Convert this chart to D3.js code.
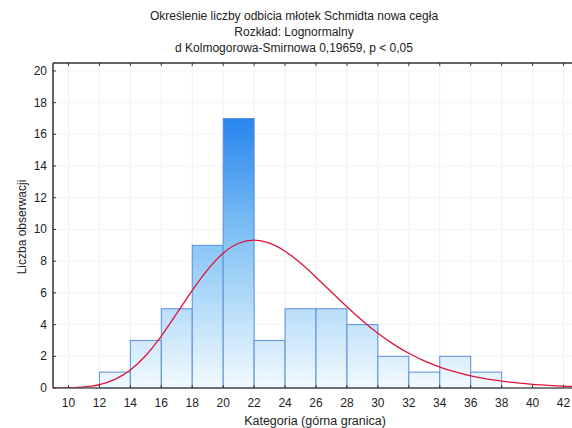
<!DOCTYPE html>
<html><head><meta charset="utf-8">
<script src="https://cdn.jsdelivr.net/npm/d3@7/dist/d3.min.js"></script>
<style>body{margin:0;background:#fff}svg{display:block;font-family:"Liberation Sans",Arial,sans-serif}</style>
</head><body>
<svg id="c" width="572" height="428"></svg>
<script>
const titleLines = ["Określenie liczby odbicia młotek Schmidta nowa cegła", "Rozkład: Lognormalny", "d Kolmogorowa-Smirnowa 0,19659, p < 0,05"];
const binStarts = [10,12,14,16,18,20,22,24,26,28,30,32,34,36,38,40];
const counts    = [0, 1, 3, 5, 9, 17, 3, 5, 5, 4, 2, 1, 2, 1, 0, 0];
const curveX = [9,10,11,12,13,14,15,16,17,18,19,20,21,22,23,24,25,26,27,28,29,30,31,32,33,34,35,36,37,38,39,40,41,42,43];
const curveY = [0.003,0.015,0.065,0.21,0.54,1.13,2.05,3.27,4.70,6.16,7.47,8.50,9.13,9.33,9.14,8.63,7.88,6.99,6.05,5.12,4.24,3.45,2.77,2.19,1.71,1.32,1.01,0.76,0.57,0.43,0.32,0.23,0.17,0.12,0.09];
const xTicks = [10,12,14,16,18,20,22,24,26,28,30,32,34,36,38,40,42];
const yTicks = [0,2,4,6,8,10,12,14,16,18,20];
const xLabel = "Kategoria (górna granica)";
const yLabel = "Liczba obserwacji";

const svg = d3.select("#c");
const L=53, T=63, B=388, R=579;
const x = d3.scaleLinear().domain([9,43]).range([L,R]);
const y = d3.scaleLinear().domain([0,20.5]).range([B,T]);

const defs = svg.append("defs");
const g = defs.append("linearGradient").attr("id","bg").attr("gradientUnits","userSpaceOnUse")
  .attr("x1",0).attr("x2",0).attr("y1",y(18)).attr("y2",y(0));
g.append("stop").attr("offset",0).attr("stop-color","#1b7ded");
g.append("stop").attr("offset",0.5).attr("stop-color","#8ac6f5");
g.append("stop").attr("offset",1).attr("stop-color","#f2faff");
defs.append("clipPath").attr("id","clip").append("rect").attr("x",L).attr("y",T).attr("width",R-L).attr("height",B-T);

// grid
svg.append("g").selectAll("line").data(xTicks).join("line")
  .attr("x1",d=>x(d)).attr("x2",d=>x(d)).attr("y1",T).attr("y2",B)
  .attr("stroke","#eef0f4").attr("stroke-width",1);
svg.append("g").selectAll("line").data(yTicks.slice(1)).join("line")
  .attr("x1",L).attr("x2",R).attr("y1",d=>y(d)).attr("y2",d=>y(d))
  .attr("stroke","#f2f4f6").attr("stroke-width",1);

// bars
svg.append("g").selectAll("rect").data(binStarts.map((s,i)=>({s,c:counts[i]})).filter(d=>d.c>0)).join("rect")
  .attr("x",d=>x(d.s)).attr("width",d=>x(d.s+2)-x(d.s))
  .attr("y",d=>y(d.c)).attr("height",d=>y(0)-y(d.c))
  .attr("fill","url(#bg)").attr("stroke","#5a8fd8").attr("stroke-width",1);

// curve
const pts = curveX.map((v,i)=>[v,curveY[i]]);
svg.append("path").attr("clip-path","url(#clip)")
  .attr("d", d3.line().x(d=>x(d[0])).y(d=>y(d[1])).curve(d3.curveMonotoneX)(pts))
  .attr("fill","none").attr("stroke","#e0143a").attr("stroke-width",1.3);

// frame
svg.append("line").attr("x1",L).attr("x2",L).attr("y1",T).attr("y2",B).attr("stroke","#333").attr("stroke-width",1.5);
svg.append("line").attr("x1",L).attr("x2",572).attr("y1",B).attr("y2",B).attr("stroke","#555").attr("stroke-width",1.5);
svg.append("line").attr("x1",L).attr("x2",572).attr("y1",T).attr("y2",T).attr("stroke","#333").attr("stroke-width",1.5);

// ticks
svg.append("g").selectAll("line").data(xTicks).join("line")
  .attr("x1",d=>x(d)).attr("x2",d=>x(d)).attr("y1",B-3).attr("y2",B).attr("stroke","#333");
svg.append("g").selectAll("line").data(xTicks).join("line")
  .attr("x1",d=>x(d)).attr("x2",d=>x(d)).attr("y1",T).attr("y2",T+3).attr("stroke","#333");
svg.append("g").selectAll("line").data(yTicks).join("line")
  .attr("x1",L).attr("x2",L+3).attr("y1",d=>y(d)).attr("y2",d=>y(d)).attr("stroke","#333");

// tick labels
svg.append("g").selectAll("text").data(xTicks).join("text")
  .attr("x",d=>x(d)).attr("y",407).attr("text-anchor","middle")
  .attr("font-size",12).attr("fill","#222").text(d=>d);
svg.append("g").selectAll("text").data(yTicks).join("text")
  .attr("x",47).attr("y",d=>y(d)+4).attr("text-anchor","end")
  .attr("font-size",12).attr("fill","#222").text(d=>d);

// titles
svg.append("g").selectAll("text").data(titleLines).join("text")
  .attr("x",294).attr("y",(d,i)=>20+i*16).attr("text-anchor","middle")
  .attr("font-size",12).attr("fill","#222").text(d=>d);
svg.append("text").attr("x",315).attr("y",425).attr("text-anchor","middle")
  .attr("font-size",12.5).attr("fill","#222").text(xLabel);
svg.append("text").attr("transform","translate(26,227) rotate(-90)").attr("text-anchor","middle")
  .attr("font-size",12).attr("fill","#222").text(yLabel);
</script>
</body></html>
